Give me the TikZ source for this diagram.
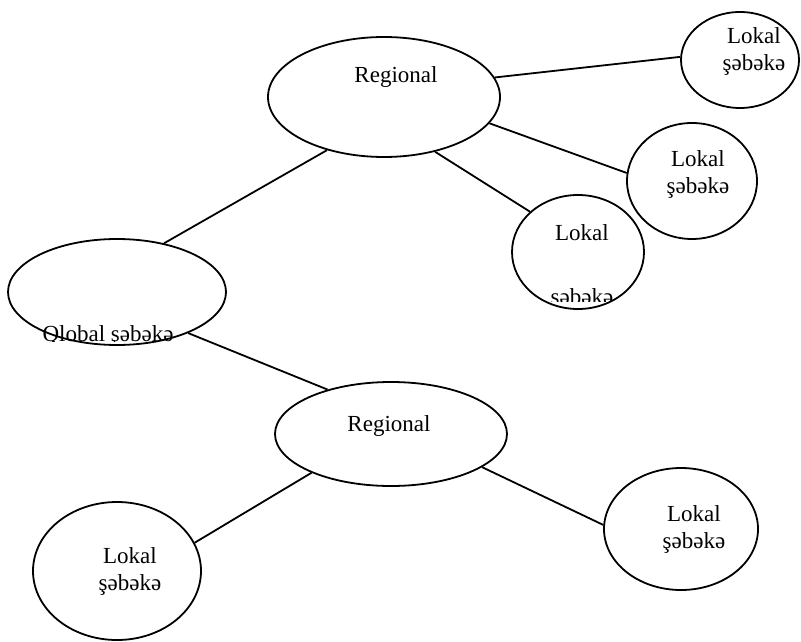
\documentclass[tikz,border=0pt]{standalone}
\usepackage{fontspec}
\setmainfont{Liberation Serif}
\usetikzlibrary{shapes.geometric}

\begin{document}
\begin{tikzpicture}[x=0.5pt, y=-0.5pt,
          net/.style={ellipse, draw=black, line width=0.9pt, inner sep=0pt},
          txt/.style={align=center, inner sep=0pt, font=\fontsize{11.5}{13.5}\selectfont},
          link/.style={draw=black, line width=0.9pt}
        ]
        \useasboundingbox (0,0) rectangle (801,641);

        % shapes
        \node[net, minimum width=109pt, minimum height=53pt] (glob) at (117,292) {};
        \node[net, minimum width=116pt, minimum height=60pt] (regA) at (384,97) {};
        \node[net, minimum width=116pt, minimum height=52pt] (regB) at (391,434) {};
        \node[net, minimum width=59pt, minimum height=48pt] (lokA) at (740,60) {};
        \node[net, minimum width=65pt, minimum height=58pt] (lokB) at (692,181) {};
        \node[net, minimum width=66pt, minimum height=57pt] (lokC) at (578,252) {};
        \node[net, minimum width=84pt, minimum height=69pt] (lokD) at (117,571) {};
        \node[net, minimum width=77pt, minimum height=61pt] (lokE) at (681,529) {};

        % texts
        \node[txt] (regAt) at (396,77) {Regional};
        \node[txt] (regBt) at (389,426) {Regional};
        \node[txt] (lokAt) at (754,51) {Lokal\\şəbəkə};
        \node[txt] (lokBt) at (698,174) {Lokal\\şəbəkə};
        \node[txt] (lokCt) at (582,233) {Lokal};
        \node[txt] (lokDt) at (130,571) {Lokal\\şəbəkə};
        \node[txt] (lokEt) at (694,529) {Lokal\\şəbəkə};
        \begin{scope}
          \clip (500,280) rectangle (660,301);
          \node[txt, anchor=base] (lokCs) at (582,304) {şəbəkə};
        \end{scope}
        \begin{scope}
          \clip (20,310) rectangle (200,341);
          \node[txt, anchor=base] (globt) at (108,341) {Qlobal şəbəkə};
        \end{scope}

        % links
        \draw[link] (glob.46) -- (regA.223);
        \draw[link] (glob.-30) -- (regB.145);
        \draw[link] (regA.10) -- (lokA.177);
        \draw[link] (regA.-14) -- (lokB.173);
        \draw[link] (regA.-47) -- (lokC.140);
        \draw[link] (regB.206) -- (lokD.20);
        \draw[link] (regB.-20) -- (lokE.177);
      \end{tikzpicture}
\end{document}
